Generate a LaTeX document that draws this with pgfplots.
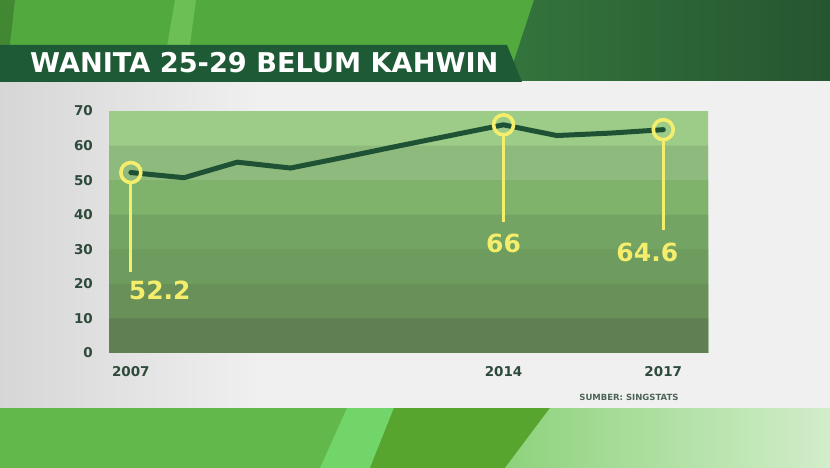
\documentclass[border=0pt]{standalone}
\usepackage{pgfplots}
\pgfplotsset{compat=1.18}
\usepackage{fontspec}
\setmainfont{DejaVu Sans}
% band colours, light at top to dark at bottom
\definecolor{bandA}{HTML}{9DCB88}
\definecolor{bandB}{HTML}{8EBA7D}
\definecolor{bandC}{HTML}{7FB36C}
\definecolor{bandD}{HTML}{74A463}
\definecolor{bandE}{HTML}{6E9B5E}
\definecolor{bandF}{HTML}{699058}
\definecolor{bandG}{HTML}{607F52}
\definecolor{lineg}{HTML}{1F5234}
\definecolor{yel}{HTML}{F4EE6C}
\definecolor{tickc}{HTML}{2E4A3A}
\definecolor{titlebar}{HTML}{1F5A36}
\definecolor{grnA}{HTML}{52AA3F}
\definecolor{grnB}{HTML}{6CBF55}
\definecolor{grnC}{HTML}{2F6B3C}
\definecolor{grnD}{HTML}{62B84A}
\definecolor{grnE}{HTML}{72D56A}
\definecolor{grnF}{HTML}{57A52F}
\definecolor{grnG}{HTML}{8ED27C}

\begin{document}
\begin{tikzpicture}[x=1pt,y=1pt]
% backdrop, pixel coordinates with y upwards
\fill[grnA] (0,0) rectangle (830,468);
\shade[left color=grnC!85!grnA, right color=grnC!80!black] (534,468) -- (830,468) -- (830,380) -- (505,380) -- cycle;
\fill[grnB] (175,468) -- (196,468) -- (184,380) -- (160,380) -- cycle;
\fill[grnA!80!black] (0,468) -- (15,468) -- (5,380) -- (0,380) -- cycle;
% lower strip
\fill[grnD] (0,0) rectangle (830,62);
\fill[grnE] (347,60) -- (394,60) -- (370,0) -- (320,0) -- cycle;
\fill[grnF] (394,60) -- (550,60) -- (505,0) -- (370,0) -- cycle;
\shade[left color=grnG, right color=grnG!40!white] (550,60) -- (830,60) -- (830,0) -- (505,0) -- cycle;
% panel
\fill[black!6] (0,60) rectangle (830,387);
\shade[left color=black!16, right color=black!6] (0,60) rectangle (260,387);
% title bar
\fill[titlebar] (0,423) -- (507,423) -- (522,386) -- (0,386) -- cycle;
\node[anchor=west, inner sep=0pt, text=white, font=\fontsize{27.2}{29}\selectfont\bfseries]
  at (30,405) {WANITA 25-29 BELUM KAHWIN};
\node[anchor=center, inner sep=0pt, text=tickc!85, font=\fontsize{8.5}{9}\selectfont\bfseries]
  at (629,71) {SUMBER: SINGSTATS};

\begin{axis}[
  at={(109pt,115pt)}, anchor=south west,
  width=599pt, height=242pt, scale only axis,
  xmin=2006.59, xmax=2017.84, ymin=0, ymax=70,
  axis line style={draw=none},
  major tick length=0pt,
  xtick={2007,2014,2017}, xticklabels={2007,2014,2017},
  ytick={0,10,...,70},
  tick label style={font=\fontsize{13.5}{14}\selectfont\bfseries, text=tickc},
  /pgf/number format/assume math mode=true,
  yticklabel style={anchor=east, inner sep=0pt, xshift=-16pt},
  xticklabel style={anchor=north, inner sep=0pt, yshift=-13pt},
  clip=false,
]
% bands, each drawn from 0 up to its top so no seams show
\addplot[fill=bandA, draw=none] coordinates {(2006.59,0) (2017.84,0) (2017.84,70) (2006.59,70) (2006.59,0)};
\addplot[fill=bandB, draw=none] coordinates {(2006.59,0) (2017.84,0) (2017.84,60) (2006.59,60) (2006.59,0)};
\addplot[fill=bandC, draw=none] coordinates {(2006.59,0) (2017.84,0) (2017.84,50) (2006.59,50) (2006.59,0)};
\addplot[fill=bandD, draw=none] coordinates {(2006.59,0) (2017.84,0) (2017.84,40) (2006.59,40) (2006.59,0)};
\addplot[fill=bandE, draw=none] coordinates {(2006.59,0) (2017.84,0) (2017.84,30) (2006.59,30) (2006.59,0)};
\addplot[fill=bandF, draw=none] coordinates {(2006.59,0) (2017.84,0) (2017.84,20) (2006.59,20) (2006.59,0)};
\addplot[fill=bandG, draw=none] coordinates {(2006.59,0) (2017.84,0) (2017.84,10) (2006.59,10) (2006.59,0)};

% the series
\addplot[lineg, line width=5pt, line join=round, line cap=round] coordinates {
  (2007,52.2) (2008,50.7) (2009,55.2) (2010,53.5) (2011,56.6)
  (2012,59.8) (2013,62.9) (2014,66.0) (2015,62.9) (2016,63.6) (2017,64.6)};

% callouts
\addplot[yel, line width=2.8pt] coordinates {(2007,49.0) (2007,23.4)};
\addplot[yel, line width=2.8pt] coordinates {(2014,62.8) (2014,37.9)};
\addplot[yel, line width=2.8pt] coordinates {(2017,61.4) (2017,35.6)};
\addplot[only marks, mark=o, mark size=10pt, draw=yel, line width=3.6pt,
  mark options={line width=3.6pt, draw=yel}]
  coordinates {(2007,52.2) (2014,66.0) (2017,64.6)};

\node[anchor=west, inner sep=0pt, text=yel, font=\fontsize{25}{26}\selectfont\bfseries]
  at (axis cs:2006.96,18.2) {52.2};
\node[anchor=center, inner sep=0pt, text=yel, font=\fontsize{25}{26}\selectfont\bfseries]
  at (axis cs:2014,31.8) {66};
\node[anchor=center, inner sep=0pt, text=yel, font=\fontsize{25}{26}\selectfont\bfseries]
  at (axis cs:2016.7,29.2) {64.6};
\end{axis}
\end{tikzpicture}
\end{document}
